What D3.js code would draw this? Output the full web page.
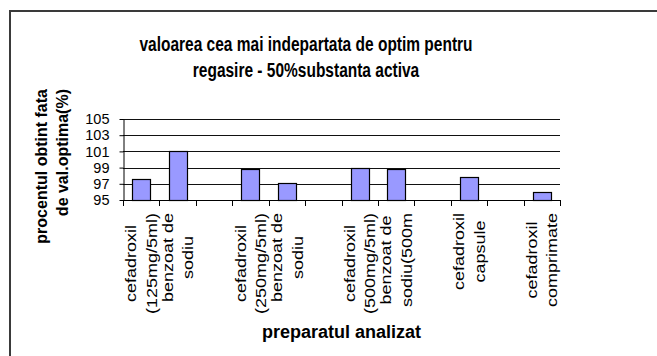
<!DOCTYPE html>
<html>
<head>
<meta charset="utf-8">
<script src="https://cdn.jsdelivr.net/npm/d3@7/dist/d3.min.js"></script>
<style>
  html, body { margin: 0; padding: 0; background: #fff; }
  svg { display: block; font-family: Arial, "Liberation Sans", sans-serif; }
</style>
</head>
<body>
<svg id="chart" width="657" height="356"></svg>
<script>
// Category labels (one array of lines per category; empty slots separate groups)
const categories = [
  ["cefadroxil", "(125mg/5ml)"],
  ["benzoat de", "sodiu"],
  [""],
  ["cefadroxil", "(250mg/5ml)"],
  ["benzoat de", "sodiu"],
  [""],
  ["cefadroxil", "(500mg/5ml)"],
  ["benzoat de", "sodiu(500m"],
  [""],
  ["cefadroxil", "capsule"],
  [""],
  ["cefadroxil", "comprimate"]
];
// Percent obtained relative to optimum value (null = no bar)
const values = [97.6, 101.1, null, 98.8, 97.1, null, 99.0, 98.8, null, 97.9, null, 96.0];
const yTicks = [95, 97, 99, 101, 103, 105];
const titleLines = ["valoarea cea mai indepartata de optim pentru", "regasire - 50%substanta activa"];
const yTitleLines = ["procentul obtint fata", "de val.optima(%)"];
const xTitle = "preparatul analizat";

const svg = d3.select("#chart");

// outer chart frame
svg.append("rect")
  .attr("x", 10).attr("y", 11)
  .attr("width", 720).attr("height", 420)
  .attr("fill", "none").attr("stroke", "#3a3a3a").attr("stroke-width", 2);

const plot = { left: 123, right: 560, top: 119, bottom: 200 };

const x = d3.scaleBand()
  .domain(d3.range(categories.length))
  .range([plot.left, plot.right])
  .paddingInner(0.5).paddingOuter(0.25);

const xBand = d3.scaleBand()
  .domain(d3.range(categories.length))
  .range([plot.left, plot.right]);

const y = d3.scaleLinear().domain([95, 105]).range([plot.bottom, plot.top]);

// gridlines
svg.append("g")
  .selectAll("line")
  .data(yTicks.slice(1))
  .join("line")
  .attr("x1", plot.left).attr("x2", plot.right)
  .attr("y1", d => Math.round(y(d)) + 0.5).attr("y2", d => Math.round(y(d)) + 0.5)
  .attr("stroke", "#111").attr("stroke-width", 1);

// bars
svg.append("g")
  .selectAll("rect")
  .data(values.map((v, i) => ({ v, i })).filter(d => d.v !== null))
  .join("rect")
  .attr("x", d => Math.round(x(d.i)) + 0.5)
  .attr("y", d => Math.round(y(d.v)) + 0.5)
  .attr("width", Math.round(x.bandwidth()))
  .attr("height", d => Math.round(y(95)) - Math.round(y(d.v)))
  .attr("fill", "#9999ff").attr("stroke", "#000").attr("stroke-width", 1.2);

// y axis
const yAxis = svg.append("g")
  .attr("transform", `translate(${plot.left + 0.5},0)`)
  .call(d3.axisLeft(y).tickValues(yTicks).tickSize(4).tickSizeOuter(0).tickPadding(10));
yAxis.select(".domain").attr("stroke", "#000");
yAxis.selectAll(".tick line").attr("stroke", "#000");
yAxis.selectAll(".tick text")
  .attr("fill", "#000")
  .style("font-size", "14.5px")
  .style("font-family", "Arial, 'Liberation Sans', sans-serif");

// x axis (ticks between categories)
const tickPositions = d3.range(categories.length + 1).map(i => plot.left + i * xBand.step());
const xAxisG = svg.append("g");
xAxisG.append("line")
  .attr("x1", plot.left).attr("x2", plot.right + 0.5)
  .attr("y1", plot.bottom + 0.5).attr("y2", plot.bottom + 0.5)
  .attr("stroke", "#000");
xAxisG.selectAll(".xt")
  .data(tickPositions)
  .join("line")
  .attr("class", "xt")
  .attr("x1", d => Math.round(d) + 0.5).attr("x2", d => Math.round(d) + 0.5)
  .attr("y1", plot.bottom).attr("y2", plot.bottom + 6)
  .attr("stroke", "#000");

// rotated multi-line category labels, top edge aligned under the axis
const labelTop = 213;
const labelLineH = 20.5;
categories.forEach((lines, i) => {
  if (lines.length === 1 && lines[0] === "") return;
  const cx = xBand(i) + xBand.bandwidth() / 2;
  const g = svg.append("g")
    .attr("transform", `translate(${cx},${labelTop}) rotate(-90)`);
  const texts = lines.map((t, k) => g.append("g")
    .attr("transform", `translate(0,${(k - (lines.length - 1) / 2) * labelLineH}) scale(1,0.86)`)
    .append("text")
    .attr("dy", "0.35em")
    .attr("text-anchor", "middle")
    .style("font-size", "18px")
    .attr("fill", "#000")
    .text(t));
  const w = d3.max(texts, t => t.node().getComputedTextLength());
  texts.forEach(t => t.attr("x", -w / 2));
});

// chart title
svg.append("g")
  .selectAll("g")
  .data(titleLines)
  .join("g")
  .attr("transform", (d, i) => `translate(306,${50.5 + i * 26.5}) scale(1,1.25)`)
  .append("text")
  .attr("text-anchor", "middle")
  .style("font-size", "15.5px")
  .style("font-weight", "bold")
  .attr("fill", "#000")
  .text(d => d);

// y axis title (lines aligned at their upper end)
const yt = svg.append("g").attr("transform", "translate(52,89) rotate(-90)");
yt.selectAll("text")
  .data(yTitleLines)
  .join("text")
  .attr("x", 0)
  .attr("y", (d, i) => (i - 0.5) * 20.5)
  .attr("dy", "0.35em")
  .attr("text-anchor", "end")
  .style("font-size", "16px")
  .style("font-weight", "bold")
  .attr("fill", "#000")
  .text(d => d);

// x axis title
svg.append("text")
  .attr("x", (plot.left + plot.right) / 2)
  .attr("y", 338)
  .attr("text-anchor", "middle")
  .style("font-size", "18px")
  .style("font-weight", "bold")
  .attr("fill", "#000")
  .text(xTitle);
</script>
</body>
</html>
